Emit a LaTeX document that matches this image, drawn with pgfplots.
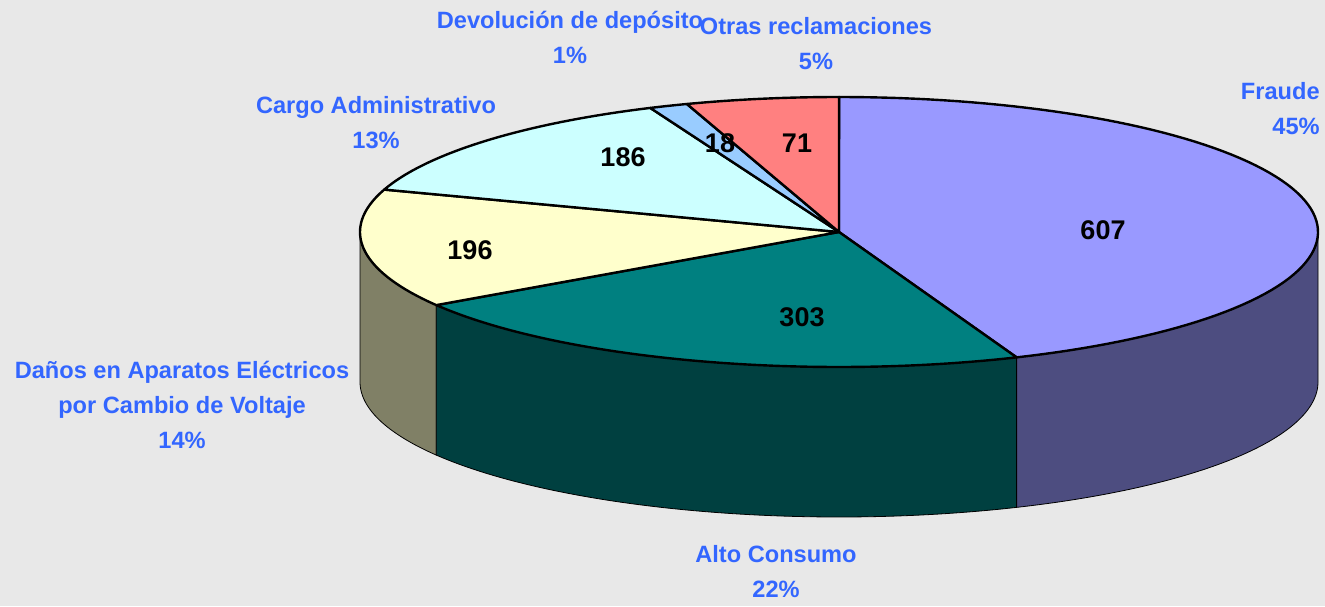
\documentclass[border=0pt]{standalone}
\usepackage{pgfplots}
\pgfplotsset{compat=1.18}
\usepgfplotslibrary{fillbetween}
\usepackage{fontspec}
\setmainfont{Liberation Sans}
\definecolor{bg}{HTML}{E8E8E8}
\definecolor{lbl}{HTML}{3366FF}
\definecolor{cFraude}{HTML}{9999FF}
\definecolor{sFraude}{HTML}{4D4D80}
\definecolor{cAlto}{HTML}{008080}
\definecolor{sAlto}{HTML}{004040}
\definecolor{cDanos}{HTML}{FFFFCC}
\definecolor{sDanos}{HTML}{808066}
\definecolor{cCargo}{HTML}{CCFFFF}
\definecolor{cDev}{HTML}{99CCFF}
\definecolor{cOtras}{HTML}{FF8080}
% data values
\def\vFraude{607}
\def\vAlto{303}
\def\vDanos{196}
\def\vCargo{186}
\def\vDev{18}
\def\vOtras{71}
\pgfmathsetmacro\tot{\vFraude+\vAlto+\vDanos+\vCargo+\vDev+\vOtras}
% cumulative boundaries (math angles, clockwise from top)
\pgfmathsetmacro\aA{90}
\pgfmathsetmacro\aB{90-360*(\vFraude/\tot)}
\pgfmathsetmacro\aC{\aB-360*(\vAlto/\tot)}
\pgfmathsetmacro\aD{\aC-360*(\vDanos/\tot)}
\pgfmathsetmacro\aE{\aD-360*(\vCargo/\tot)}
\pgfmathsetmacro\aF{\aE-360*(\vDev/\tot)}
\pgfmathsetmacro\aG{-270}
\def\cx{839}\def\cy{-232}\def\rx{479}\def\ry{135}\def\dz{150}
\begin{document}
\begin{tikzpicture}
\begin{axis}[
  width=662.5pt, height=303pt, scale only axis,
  xmin=0, xmax=1325, ymin=-606, ymax=0,
  axis line style={draw=none}, xtick=\empty, ytick=\empty,
  axis background/.style={fill=bg},
  clip=false,
  every axis plot/.append style={line width=1.2pt, line join=round, samples=90},
]
% side walls
\addplot[draw=none, name path=t1, domain=-180:\aC] ({\cx+\rx*cos(x)},{\cy+\ry*sin(x)});
\addplot[draw=none, name path=b1, domain=-180:\aC] ({\cx+\rx*cos(x)},{\cy-\dz+\ry*sin(x)});
\addplot[fill=sDanos, draw=black] fill between[of=t1 and b1];
\addplot[draw=none, name path=t2, domain=\aC:\aB] ({\cx+\rx*cos(x)},{\cy+\ry*sin(x)});
\addplot[draw=none, name path=b2, domain=\aC:\aB] ({\cx+\rx*cos(x)},{\cy-\dz+\ry*sin(x)});
\addplot[fill=sAlto, draw=black] fill between[of=t2 and b2];
\addplot[draw=none, name path=t3, domain=\aB:0] ({\cx+\rx*cos(x)},{\cy+\ry*sin(x)});
\addplot[draw=none, name path=b3, domain=\aB:0] ({\cx+\rx*cos(x)},{\cy-\dz+\ry*sin(x)});
\addplot[fill=sFraude, draw=black] fill between[of=t3 and b3];
% top slices
\addplot[fill=cFraude, draw=black, domain=\aB:\aA] ({\cx+\rx*cos(x)},{\cy+\ry*sin(x)}) -- (\cx,\cy) -- cycle;
\addplot[fill=cAlto, draw=black, domain=\aC:\aB] ({\cx+\rx*cos(x)},{\cy+\ry*sin(x)}) -- (\cx,\cy) -- cycle;
\addplot[fill=cDanos, draw=black, domain=\aD:\aC] ({\cx+\rx*cos(x)},{\cy+\ry*sin(x)}) -- (\cx,\cy) -- cycle;
\addplot[fill=cCargo, draw=black, domain=\aE:\aD] ({\cx+\rx*cos(x)},{\cy+\ry*sin(x)}) -- (\cx,\cy) -- cycle;
\addplot[fill=cDev, draw=black, domain=\aF:\aE] ({\cx+\rx*cos(x)},{\cy+\ry*sin(x)}) -- (\cx,\cy) -- cycle;
\addplot[fill=cOtras, draw=black, domain=\aG:\aF] ({\cx+\rx*cos(x)},{\cy+\ry*sin(x)}) -- (\cx,\cy) -- cycle;
% values
\begin{scope}[every node/.style={font=\fontsize{13.5}{15}\selectfont\bfseries, text=black}]
\node at (axis cs:1103,-230) {607};
\node at (axis cs:802,-317) {303};
\node at (axis cs:470,-250) {196};
\node at (axis cs:623,-157) {186};
\node at (axis cs:720,-143) {18};
\node at (axis cs:797,-143) {71};
\end{scope}
% labels
\begin{scope}[every node/.style={font=\fontsize{11.8}{17.5}\selectfont\bfseries, text=lbl, align=center, inner sep=0pt}]
\node at (axis cs:570,-37) {Devoluci\'on de dep\'osito\\1\%};
\node at (axis cs:816,-44) {Otras reclamaciones\\5\%};
\node[align=right, anchor=east] at (axis cs:1320,-109) {Fraude\\45\%};
\node at (axis cs:376,-123) {Cargo Administrativo\\13\%};
\node at (axis cs:182,-405) {Da\~nos en Aparatos El\'ectricos\\por Cambio de Voltaje\\14\%};
\node at (axis cs:776,-572) {Alto Consumo\\22\%};
\end{scope}
\end{axis}
\end{tikzpicture}
\end{document}
